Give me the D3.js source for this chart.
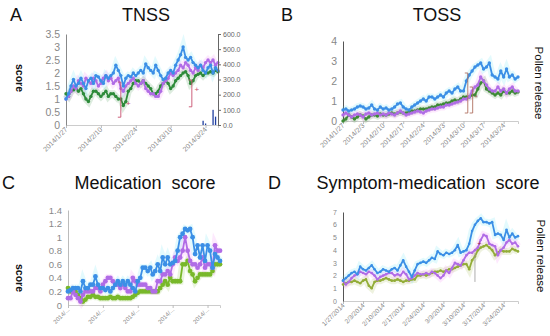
<!DOCTYPE html>
<html>
<head>
<meta charset="utf-8">
<script src="https://cdn.jsdelivr.net/npm/d3@7"></script>
<style>
  body { margin: 0; background: #fff; }
  svg { display: block; font-family: "Liberation Sans", Arial, sans-serif; }
</style>
</head>
<body>
<svg id="chart" width="550" height="336"></svg>
<script>
// days from 2014/1/27
var startDate = new Date(2014, 0, 27);
var nDays = 62;

// A - TNSS
var tnssBlue = [1.0,1.2,1.5,1.75,1.5,1.6,1.8,1.6,1.4,1.7,
  1.8,1.6,1.9,1.85,1.7,1.6,1.9,1.8,1.9,2.0,
  2.3,2.1,1.9,1.5,1.8,1.9,1.85,2.0,1.9,2.0,
  2.1,2.0,2.35,2.2,2.1,2.0,2.3,2.1,1.9,1.75,
  1.8,2.0,2.1,2.0,2.3,2.5,2.7,3.0,2.6,2.5,
  2.6,2.4,2.3,2.2,2.3,2.1,2.0,2.2,2.3,2.0,
  2.2,2.1];
var tnssPurple = [1.0,1.1,1.3,1.5,1.4,1.7,1.6,1.5,1.8,1.7,
  1.6,1.8,1.7,1.5,1.6,1.8,1.9,1.7,1.8,1.6,
  1.7,1.8,1.4,1.3,1.5,1.6,1.7,1.8,1.6,1.5,
  1.6,1.7,1.4,1.3,1.2,1.2,1.1,1.1,1.3,1.6,
  1.7,1.8,2.0,1.9,2.0,2.1,2.3,2.2,2.4,2.3,
  2.1,2.0,2.2,2.1,2.3,2.2,2.4,2.5,2.4,2.5,
  2.3,2.4];
var tnssGreen = [1.2,1.1,1.3,1.35,1.4,1.3,1.4,1.2,1.0,0.9,
  1.1,1.3,1.3,1.2,1.1,1.2,1.3,1.1,1.2,1.2,
  1.1,1.0,1.0,0.75,0.9,1.3,1.4,1.6,1.7,1.7,
  1.6,1.7,1.6,1.5,1.4,1.2,1.2,1.3,1.5,1.6,
  1.7,1.6,1.4,1.5,1.7,1.8,1.9,2.0,2.05,1.9,
  1.6,1.7,1.9,1.95,2.0,1.9,2.0,2.0,2.05,2.0,
  2.1,2.05];
// pollen release (right axis of A), by day index
var pollenDays = [55, 56, 59, 60];
var pollenValues = [28, 10, 100, 55];

// B - TOSS
var tossBlue = [0.55,0.6,0.5,0.55,0.6,0.7,0.75,0.7,0.6,0.65,
  0.8,0.6,0.55,0.7,0.6,0.65,0.55,0.6,0.7,0.85,
  0.9,0.7,0.6,0.55,0.7,0.8,0.9,1.0,1.1,1.0,
  1.2,1.2,1.1,1.2,1.3,1.2,1.4,1.5,1.4,1.6,
  1.7,1.5,1.5,2.0,2.3,2.5,2.7,2.8,2.9,2.6,
  2.7,2.9,2.3,2.2,2.1,2.5,2.2,2.6,2.2,2.3,
  2.1,2.2];
var tossPurple = [0.3,0.4,0.3,0.2,0.3,0.35,0.3,0.2,0.35,0.4,
  0.3,0.35,0.4,0.3,0.35,0.3,0.4,0.35,0.3,0.4,
  0.5,0.4,0.3,0.35,0.4,0.45,0.5,0.45,0.4,0.5,
  0.55,0.6,0.6,0.65,0.7,0.7,0.8,0.8,0.85,0.9,
  0.95,1.0,1.1,1.1,1.2,1.5,1.7,1.8,2.2,2.0,
  1.8,1.6,1.5,1.5,1.7,1.5,1.6,1.4,1.6,1.7,
  1.5,1.5];
var tossGreen = [0.0,0.1,0.3,0.2,0.1,0.2,0.3,0.25,0.1,0.2,
  0.3,0.3,0.25,0.35,0.3,0.3,0.35,0.4,0.35,0.4,
  0.45,0.4,0.4,0.45,0.5,0.5,0.55,0.6,0.6,0.6,
  0.65,0.7,0.7,0.8,0.8,0.85,0.9,0.9,1.0,1.05,
  1.0,1.1,1.2,1.2,1.2,1.3,1.3,1.6,1.9,2.0,
  1.6,1.5,1.4,1.3,1.4,1.3,1.5,1.4,1.4,1.5,
  1.4,1.45];

// C - Medication score
var medBlue = [0.2,0.22,0.25,0.25,0.25,0.2,0.35,0.25,0.25,0.3,
  0.3,0.42,0.3,0.25,0.25,0.22,0.25,0.2,0.25,0.3,
  0.35,0.3,0.35,0.3,0.35,0.3,0.25,0.2,0.35,0.4,
  0.55,0.55,0.5,0.55,0.45,0.5,0.6,0.5,0.7,0.6,
  0.7,0.6,0.62,0.65,0.8,1.0,1.05,1.12,1.1,1.12,
  1.0,0.75,0.88,0.7,0.88,0.65,0.88,0.8,0.55,0.75,
  0.7,0.65];
var medPurple = [0.1,0.1,0.2,0.15,0.1,0.05,0.15,0.2,0.2,0.2,
  0.2,0.25,0.25,0.2,0.3,0.35,0.4,0.4,0.35,0.3,
  0.3,0.25,0.3,0.25,0.2,0.2,0.4,0.35,0.3,0.3,
  0.3,0.3,0.25,0.25,0.2,0.2,0.35,0.35,0.45,0.45,
  0.5,0.45,0.6,0.7,0.65,0.7,0.8,1.0,0.8,0.65,
  0.6,0.6,0.55,0.6,0.7,0.55,0.6,0.6,0.55,0.88,
  0.8,0.8];
var medGreen = [0.25,0.2,0.2,0.2,0.15,0.1,0.05,0.08,0.12,0.12,
  0.15,0.12,0.12,0.1,0.1,0.1,0.1,0.12,0.1,0.1,
  0.12,0.1,0.1,0.1,0.1,0.1,0.12,0.15,0.18,0.2,
  0.2,0.2,0.2,0.2,0.2,0.2,0.2,0.25,0.3,0.35,
  0.3,0.4,0.35,0.35,0.35,0.35,0.6,0.6,0.65,0.5,
  0.45,0.35,0.4,0.45,0.45,0.45,0.45,0.45,0.5,0.6,
  0.6,0.6];

// D - Symptom-medication score
var smsBlue = [1.6,1.8,2.0,2.2,2.3,2.1,2.7,2.5,2.4,2.6,
  2.8,2.5,2.2,2.3,2.5,2.4,2.3,2.5,2.6,2.4,
  2.8,3.2,2.7,2.3,1.9,2.4,2.9,3.0,3.1,3.0,
  3.2,3.4,3.3,3.9,3.7,3.6,3.8,3.7,3.8,4.0,
  4.4,3.8,3.9,4.0,4.5,5.5,6.0,6.3,6.5,6.2,
  6.2,6.1,6.2,5.2,5.3,5.2,4.8,5.6,5.0,5.3,
  5.0,5.1];
var smsPurple = [1.6,1.3,1.5,1.8,2.0,2.1,2.3,2.2,2.1,2.3,
  2.2,2.0,1.7,1.9,2.0,2.1,2.2,2.2,2.0,2.1,
  2.0,2.3,2.1,1.7,1.8,2.0,2.2,2.1,2.1,2.2,
  2.1,2.3,2.2,2.0,1.8,2.0,2.4,2.2,2.6,3.0,
  2.9,2.8,3.2,3.6,3.8,3.8,4.0,4.2,4.8,5.2,
  5.1,4.5,4.4,4.3,3.6,4.0,4.2,4.6,4.8,4.5,
  4.6,4.3];
var smsGreen = [1.3,1.4,1.5,1.5,1.6,1.5,1.4,1.6,1.7,1.2,
  1.0,1.5,1.6,1.6,1.7,1.8,1.7,1.6,1.6,1.7,
  1.6,1.5,1.6,1.6,1.7,1.7,2.0,2.0,2.1,2.0,
  2.1,2.2,2.3,2.3,2.4,2.3,2.4,2.5,2.5,2.6,
  2.7,2.8,2.9,2.9,2.5,3.2,3.5,4.0,4.2,4.3,
  4.4,4.2,4.0,3.6,3.8,4.0,3.9,3.9,3.9,4.1,
  4.0,3.9];

// tick labels
var ticksAC = [0, 14, 28, 42, 56];
var labelsA = ["2014/1/27", "2014/2/10", "2014/2/24", "2014/3/10", "2014/3/24"];
var labelsC = ["2014/...", "2014/...", "2014/...", "2014/...", "2014/..."];
var ticksBD = [0, 7, 14, 21, 28, 35, 42, 49, 56];
var labelsB = ["2014/1/27", "2014/2/3", "2014/2/10", "2014/2/17", "2014/2/24", "2014/3/3", "2014/3/10", "2014/3/17", "2014/3/24"];
var labelsD = ["1/27/2014", "2/3/2014", "2/10/2014", "2/17/2014", "2/24/2014", "3/3/2014", "3/10/2014", "3/17/2014", "3/24/2014"];

// significance brackets {day, from, to}
var bracketsA = [{day: 22, v0: 0.3, v1: 1.65, sign: "+", sd: 25, sv: 0.85}, {day: 50.5, v0: 0.7, v1: 1.73, sign: "+", sd: 52.5, sv: 1.38}];
var bracketsB = [{day: 43.5, v0: 0.4, v1: 2.4, sign: "", sd: 0, sv: 0}, {day: 45.2, v0: 0.4, v1: 1.7, sign: "*", sd: 46.5, sv: 1.2}];

var colBlue = "#3b8fe6", colPurple = "#b06ce6";
var svg = d3.select("#chart");

function panel(opt) {
  var x = d3.scaleLinear().domain([0, nDays - 1]).range([opt.x0, opt.x1]);
  var y = d3.scaleLinear().domain([0, opt.ymax]).range([opt.y0, opt.y1]);
  var g = svg.append("g");

  // baseline axis
  g.append("g")
    .attr("transform", "translate(0," + opt.y0 + ")")
    .call(d3.axisBottom(x).tickValues(opt.ticks).tickSize(3).tickFormat(""))
    .call(function(a) {
      a.select(".domain").attr("stroke", "#ccc");
      a.selectAll(".tick line").attr("stroke", "#bbb");
    });
  g.selectAll(".xlab").data(opt.ticks).enter().append("text")
    .attr("transform", function(d) { return "translate(" + (x(d) + 2) + "," + (opt.y0 + 5) + ") rotate(-45)"; })
    .attr("text-anchor", "end")
    .attr("font-size", opt.xfs)
    .attr("fill", "#888")
    .text(function(d, i) { return opt.xlabels[i]; });

  // left axis
  var ya = d3.axisLeft(y).tickValues(d3.range(0, opt.ymax + 1e-9, opt.ystep)).tickSize(0).tickPadding(opt.ypad)
    .tickFormat(opt.yfmt);
  g.append("g").attr("transform", "translate(" + opt.x0 + ",0)").call(ya)
    .call(function(a) {
      a.select(".domain").attr("stroke", opt.axisCol);
      a.selectAll("text").attr("font-size", opt.yfs).attr("fill", "#888")
        .attr("font-family", "Liberation Sans, Arial, sans-serif");
    });

  // lines, with the soft glow seen round them
  var series = [[opt.green, opt.greenCol, opt.greenCol], [opt.purple, colPurple, "#f078f0"], [opt.blue, colBlue, "#50e0f0"]];
  var line = d3.line().x(function(d, i) { return x(i); }).y(function(d) { return y(d); });
  series.forEach(function(s) {
    g.append("path").attr("d", line(s[0])).attr("fill", "none")
      .attr("stroke", s[2]).attr("stroke-opacity", 0.16).attr("stroke-width", 7);
  });
  series.forEach(function(s) {
    g.append("path").attr("d", line(s[0])).attr("fill", "none")
      .attr("stroke", s[1]).attr("stroke-width", 1.8).attr("stroke-linejoin", "round");
    g.selectAll(null).data(s[0]).enter().append("circle")
      .attr("cx", function(d, i) { return x(i); })
      .attr("cy", function(d) { return y(d); })
      .attr("r", opt.r).attr("fill", s[1]);
  });

  // brackets
  (opt.brackets || []).forEach(function(b) {
    g.append("path")
      .attr("d", "M" + (x(b.day) - 3) + "," + y(b.v1) + "H" + x(b.day) + "V" + y(b.v0) + "H" + (x(b.day) - 3))
      .attr("fill", "none").attr("stroke", opt.bracketCol).attr("stroke-width", 0.9);
    if (b.sign) {
      g.append("text").attr("x", x(b.sd)).attr("y", y(b.sv) + 3)
        .attr("text-anchor", "middle").attr("font-size", 8).attr("fill", opt.bracketCol).text(b.sign);
    }
  });
  return {g: g, x: x, y: y};
}

// Panel A
var pA = panel({x0: 66, x1: 218, y0: 125, y1: 34, ymax: 3.5, ystep: 0.5, ypad: 6, yfs: 10.5,
  yfmt: d3.format(""), axisCol: "#888", ticks: ticksAC, xlabels: labelsA, xfs: 7,
  blue: tnssBlue, purple: tnssPurple, green: tnssGreen, greenCol: "#2e8b3a", r: 1.7,
  brackets: bracketsA, bracketCol: "#c8506e"});
var yR = d3.scaleLinear().domain([0, 600]).range([125, 34]);
pA.g.selectAll(".pol").data(pollenDays).enter().append("rect")
  .attr("x", function(d) { return pA.x(d) - 0.6; })
  .attr("width", 1.3)
  .attr("y", function(d, i) { return yR(pollenValues[i]); })
  .attr("height", function(d, i) { return 125 - yR(pollenValues[i]); })
  .attr("fill", "#1f3fa0");
pA.g.append("g").attr("transform", "translate(218,0)")
  .call(d3.axisRight(yR).ticks(6).tickSize(3).tickPadding(2).tickFormat(d3.format(".1f")))
  .call(function(a) {
    a.select(".domain").attr("stroke", "#666");
    a.selectAll(".tick line").attr("stroke", "#666");
    a.selectAll("text").attr("font-size", 7).attr("fill", "#666");
  });

// Panel B
panel({x0: 343, x1: 518, y0: 121, y1: 41, ymax: 4, ystep: 1, ypad: 6, yfs: 10.5,
  yfmt: d3.format(""), axisCol: "#555", ticks: ticksBD, xlabels: labelsB, xfs: 7,
  blue: tossBlue, purple: tossPurple, green: tossGreen, greenCol: "#3c8a35", r: 1.7,
  brackets: bracketsB, bracketCol: "#b07060"});

// Panel C
panel({x0: 68, x1: 220, y0: 305, y1: 210, ymax: 1.4, ystep: 0.2, ypad: 6, yfs: 9.5,
  yfmt: function(d) { return d3.format("~g")(+d.toFixed(1)); }, axisCol: "#bbb", ticks: ticksAC, xlabels: labelsC, xfs: 6,
  blue: medBlue, purple: medPurple, green: medGreen, greenCol: "#78b82a", r: 2.4});

// Panel D
var pD = panel({x0: 343, x1: 518, y0: 301, y1: 212, ymax: 7, ystep: 1, ypad: 6, yfs: 7,
  yfmt: d3.format(""), axisCol: "#555", ticks: ticksBD, xlabels: labelsD, xfs: 6.5,
  blue: smsBlue, purple: smsPurple, green: smsGreen, greenCol: "#93ad38", r: 1.3});
pD.g.append("line").attr("x1", pD.x(46)).attr("x2", pD.x(46)).attr("y1", pD.y(3.8)).attr("y2", pD.y(1.5))
  .attr("stroke", "#999").attr("stroke-width", 0.8);
pD.g.append("text").attr("x", pD.x(47.5)).attr("y", pD.y(4.6) + 3).attr("text-anchor", "middle")
  .attr("font-size", 7).attr("fill", "#a02040").text("+");

// titles and letters
var titles = [
  {t: "A", x: 10, y: 21, a: "start"}, {t: "TNSS", x: 146, y: 21, a: "middle"},
  {t: "B", x: 281, y: 21, a: "start"}, {t: "TOSS", x: 437, y: 21, a: "middle"},
  {t: "C", x: 2, y: 189, a: "start"}, {t: "Medication  score", x: 145, y: 189, a: "middle"},
  {t: "D", x: 268, y: 189, a: "start"}, {t: "Symptom-medication  score", x: 428, y: 189, a: "middle"}
];
svg.selectAll(".title").data(titles).enter().append("text")
  .attr("x", function(d) { return d.x; }).attr("y", function(d) { return d.y; })
  .attr("text-anchor", function(d) { return d.a; })
  .attr("font-size", 18).attr("fill", "#111")
  .style("white-space", "pre")
  .text(function(d) { return d.t; });

// side labels
var sides = [
  {t: "score", x: 16, y: 78, fs: 10.5, w: "bold", rot: 90},
  {t: "score", x: 16, y: 278, fs: 10.5, w: "bold", rot: 90},
  {t: "Pollen release", x: 535, y: 83, fs: 11.5, w: "normal", rot: 90},
  {t: "Pollen release", x: 537, y: 256, fs: 11.5, w: "normal", rot: 90}
];
svg.selectAll(".side").data(sides).enter().append("text")
  .attr("transform", function(d) { return "translate(" + d.x + "," + d.y + ") rotate(" + d.rot + ")"; })
  .attr("text-anchor", "middle")
  .attr("font-size", function(d) { return d.fs; })
  .attr("font-weight", function(d) { return d.w; })
  .attr("fill", "#111")
  .text(function(d) { return d.t; });
</script>
</body>
</html>
